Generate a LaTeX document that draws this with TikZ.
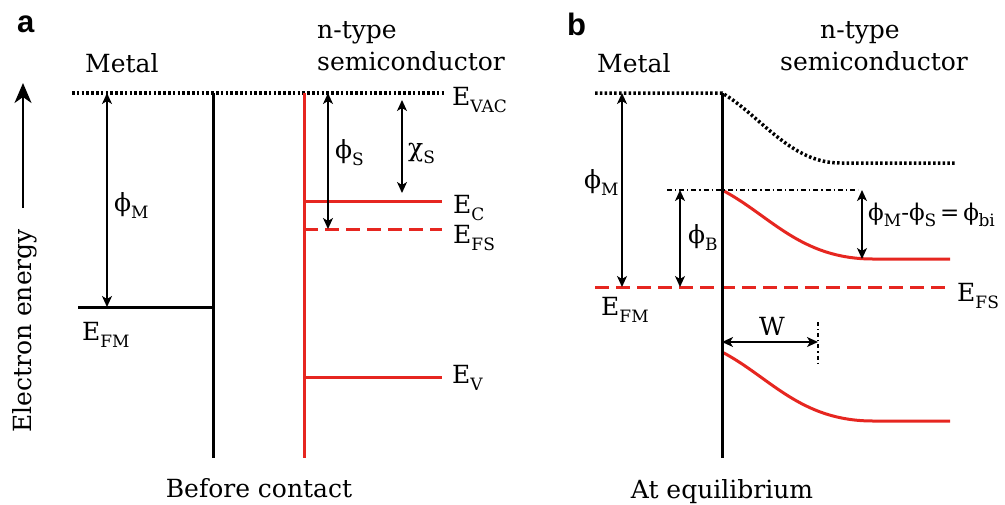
\documentclass[tikz,border=0pt]{standalone}
\usepackage{fontspec}
\setmainfont{DejaVu Serif}
\newfontfamily\panelfont{Liberation Sans}
\usetikzlibrary{arrows.meta}
\definecolor{bandred}{RGB}{230,38,32}
\newcommand\sbs[1]{\raisebox{-0.28em}{\fontsize{17}{17}\selectfont #1}}
\tikzset{
  txt/.style={inner sep=0pt, font=\fontsize{25}{30}\selectfont},
  panel/.style={inner sep=0pt, font=\panelfont\bfseries\fontsize{31}{31}\selectfont},
  dim/.style={line width=1.5pt, {Stealth[length=11pt,width=10pt,inset=3pt]}-{Stealth[length=11pt,width=10pt,inset=3pt]}},
  metalline/.style={line width=3pt, black},
  redline/.style={line width=3pt, bandred},
  reddash/.style={line width=3pt, bandred, dash pattern=on 14pt off 7pt},
  vacline/.style={line width=3.5pt, black, dash pattern=on 2.5pt off 2.3pt},
}
\begin{document}
\begin{tikzpicture}[x=1pt,y=-1pt]
\useasboundingbox (0,0) rectangle (1005,504);
% ---------------- panel a ----------------
\node[panel, anchor=base west] (la) at (17,32) {a};
\node[txt, anchor=base west] (metala) at (85,72) {Metal};
\node[txt, anchor=base west] (ntypea) at (317,38) {n-type};
\node[txt, anchor=base west] (semia) at (317,70) {semiconductor};
% energy axis
\coordinate (axb) at (23,208);
\coordinate (axt) at (23,83);
\draw[line width=2pt, -{Stealth[length=20pt,width=17pt,inset=6pt]}] (axb) -- (axt);
\node[txt, rotate=90] (ee) at (25,331) {Electron energy};
% vacuum level
\coordinate (vacL) at (72,93);
\coordinate (vacR) at (445,93);
\draw[vacline] (vacL) -- (vacR);
\node[txt, anchor=base west] (evac) at (452,105) {E\sbs{VAC}};
% metal
\coordinate (mt) at (213,93);
\coordinate (mb) at (213,458);
\draw[metalline] (mt) -- (mb);
\coordinate (efmL) at (78,307);
\coordinate (efmR) at (213,307);
\draw[metalline] (efmL) -- (efmR);
\node[txt, anchor=base west] (efma) at (82,340) {E\sbs{FM}};
\coordinate (phiMt) at (107,93);
\coordinate (phiMb) at (107,307);
\draw[dim] (phiMt) -- (phiMb);
\node[txt, anchor=west] (phiMa) at (114,205) {ϕ\sbs{M}};
% semiconductor
\coordinate (st) at (304,93);
\coordinate (sb) at (304,458);
\draw[redline] (st) -- (sb);
\coordinate (ecL) at (304,201);
\coordinate (ecR) at (442,201);
\draw[redline] (ecL) -- (ecR);
\node[txt, anchor=base west] (eca) at (453,213) {E\sbs{C}};
\coordinate (efsL) at (304,229);
\coordinate (efsR) at (442,229);
\draw[reddash] (efsL) -- (efsR);
\node[txt, anchor=base west] (efsa) at (453,243) {E\sbs{FS}};
\coordinate (evL) at (304,377);
\coordinate (evR) at (442,377);
\draw[redline] (evL) -- (evR);
\node[txt, anchor=base west] (eva) at (452,383) {E\sbs{V}};
\coordinate (phiSt) at (328,93);
\coordinate (phiSb) at (328,229);
\draw[dim] (phiSt) -- (phiSb);
\node[txt, anchor=west] (phiSa) at (335,153) {ϕ\sbs{S}};
\coordinate (chit) at (402,100);
\coordinate (chib) at (402,193);
\draw[dim] (chit) -- (chib);
\node[txt, anchor=west] (chia) at (408,153) {χ\sbs{S}};
\node[txt, anchor=base] (before) at (259,497) {Before contact};
% ---------------- panel b ----------------
\node[panel, anchor=base west] (lb) at (567,35) {b};
\node[txt, anchor=base west] (metalb) at (597,72) {Metal};
\node[txt, anchor=base] (ntypeb) at (860,38) {n-type};
\node[txt, anchor=base] (semib) at (874,70) {semiconductor};
% vacuum level bent
\coordinate (vbL) at (595,93);
\coordinate (vbI) at (722,93);
\coordinate (vbB) at (840,163);
\coordinate (vbR) at (955,163);
\draw[vacline] (vbL) -- (vbI) .. controls (760,115) and (790,163) .. (vbB) -- (vbR);
% interface
\coordinate (it) at (722,93);
\coordinate (ib) at (722,458);
% conduction band
\coordinate (cb0) at (722,190);
\coordinate (cb1) at (873,259);
\coordinate (cbR) at (950,259);
\draw[redline] (cb0) .. controls (770,215) and (800,259) .. (cb1) -- (cbR);
% valence band
\coordinate (vb0) at (722,352);
\coordinate (vb1) at (873,421);
\coordinate (vbRR) at (950,421);
\draw[redline] (vb0) .. controls (770,377) and (800,421) .. (vb1) -- (vbRR);
% Fermi level
\coordinate (fL) at (595,287);
\coordinate (fR) at (950,287);
\draw[reddash] (fL) -- (fR);
\draw[metalline] (it) -- (ib);
\node[txt, anchor=base west] (efsb) at (957,301) {E\sbs{FS}};
\node[txt, anchor=base west] (efmb) at (601,315) {E\sbs{FM}};
% barrier reference
\coordinate (ddL) at (667,190);
\coordinate (ddR) at (858,190);
\draw[line width=1.2pt, dash pattern=on 5pt off 3pt on 1.2pt off 3pt] (ddL) -- (ddR);
\coordinate (pMt) at (622,93);
\coordinate (pMb) at (622,287);
\draw[dim] (pMt) -- (pMb);
\node[txt, anchor=west] (phiMb) at (584,182) {ϕ\sbs{M}};
\coordinate (pBt) at (680,190);
\coordinate (pBb) at (680,287);
\draw[dim] (pBt) -- (pBb);
\node[txt, anchor=west] (phiB) at (688,237) {ϕ\sbs{B}};
\coordinate (pbit) at (862,190);
\coordinate (pbib) at (862,259);
\draw[dim] (pbit) -- (pbib);
\node[txt, anchor=west, font=\fontsize{23}{28}\selectfont] (phibi) at (868,215) {ϕ\sbs{M}-ϕ\sbs{S}\,=\,ϕ\kern-0.5pt\sbs{bi}};
% depletion width
\coordinate (wL) at (722,342);
\coordinate (wR) at (818,342);
\draw[dim] (wL) -- (wR);
\coordinate (wmt) at (818,322);
\coordinate (wmb) at (818,365);
\draw[line width=1.2pt, dash pattern=on 4pt off 3pt on 1.2pt off 3pt] (wmt) -- (wmb);
\node[txt, anchor=base] (wlab) at (772,335) {W};
\node[txt, anchor=base] (equil) at (722,498) {At equilibrium};
\end{tikzpicture}
\end{document}
